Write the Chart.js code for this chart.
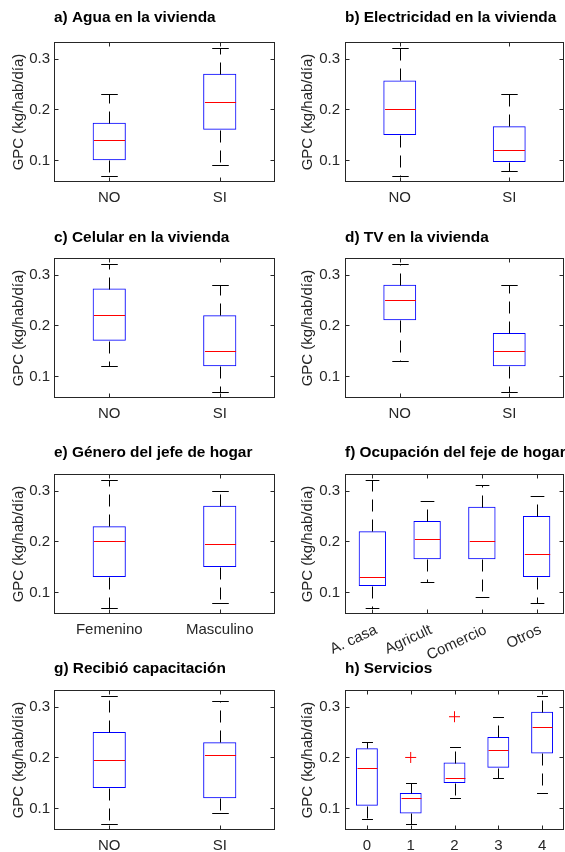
<!DOCTYPE html>
<html><head><meta charset="utf-8">
<script src="https://cdn.jsdelivr.net/npm/chart.js@4/dist/chart.umd.min.js"></script>
<style>
html,body{margin:0;padding:0;background:#fff;overflow:hidden;}
body{width:565px;height:852px;position:relative;}
canvas{position:absolute;}
</style></head><body>
<script>
// ---------- data ----------
const yTicks = [0.1, 0.2, 0.3];
const yMin = 0.0575, yMax = 0.3325;
const yLabel = 'GPC (kg/hab/día)';

const titleA = 'a) Agua en la vivienda';
const catsA = ['NO', 'SI'];
const lowA = [0.07, 0.09], q1A = [0.10, 0.16], medA = [0.14, 0.215], q3A = [0.174, 0.27], highA = [0.23, 0.32];

const titleB = 'b) Electricidad en la vivienda';
const catsB = ['NO', 'SI'];
const lowB = [0.07, 0.08], q1B = [0.15, 0.097], medB = [0.20, 0.12], q3B = [0.257, 0.167], highB = [0.32, 0.23];

const titleC = 'c) Celular en la vivienda';
const catsC = ['NO', 'SI'];
const lowC = [0.12, 0.07], q1C = [0.17, 0.12], medC = [0.22, 0.15], q3C = [0.2725, 0.22], highC = [0.32, 0.28];

const titleD = 'd) TV en la vivienda';
const catsD = ['NO', 'SI'];
const lowD = [0.13, 0.07], q1D = [0.21, 0.12], medD = [0.25, 0.15], q3D = [0.28, 0.185], highD = [0.32, 0.28];

const titleE = 'e) Género del jefe de hogar';
const catsE = ['Femenino', 'Masculino'];
const lowE = [0.07, 0.08], q1E = [0.13, 0.15], medE = [0.20, 0.195], q3E = [0.23, 0.27], highE = [0.32, 0.30];

const titleF = 'f) Ocupación del feje de hogar';
const catsF = ['A. casa', 'Agricult', 'Comercio', 'Otros'];
const lowF = [0.07, 0.12, 0.09, 0.08], q1F = [0.1125, 0.165, 0.165, 0.13], medF = [0.13, 0.205, 0.20, 0.175], q3F = [0.22, 0.24, 0.268, 0.25], highF = [0.32, 0.28, 0.31, 0.29];

const titleG = 'g) Recibió capacitación';
const catsG = ['NO', 'SI'];
const lowG = [0.07, 0.09], q1G = [0.14, 0.12], medG = [0.195, 0.205], q3G = [0.25, 0.23], highG = [0.32, 0.31];

const titleH = 'h) Servicios';
const catsH = ['0', '1', '2', '3', '4'];
const lowH = [0.08, 0.07, 0.12, 0.16, 0.13], q1H = [0.105, 0.09, 0.15, 0.18, 0.208], medH = [0.18, 0.12, 0.16, 0.215, 0.26], q3H = [0.218, 0.13, 0.19, 0.24, 0.29], highH = [0.23, 0.15, 0.22, 0.28, 0.32];
const outH = [null, 0.20, 0.28, null, null];

// ---------- drawing ----------
const FONT = "'Liberation Sans', Arial, Helvetica, sans-serif";
const TXT = '#262626';

const boxDecor = {
  id: 'boxDecor',
  afterDatasetsDraw(chart) {
    const p = chart.options.plugins.boxDecor;
    const {ctx, chartArea: a, scales: {x, y}} = chart;
    const n = p.cats.length;
    const bw = (a.width / n) * p.width;
    const cw = bw / 2;
    const line = (x1, y1, x2, y2) => { ctx.beginPath(); ctx.moveTo(x1, y1); ctx.lineTo(x2, y2); ctx.stroke(); };
    const py = v => Math.round(y.getPixelForValue(v)) + 0.5;
    ctx.save();
    ctx.lineWidth = 1;
    for (let i = 0; i < n; i++) {
      const cx = Math.round(x.getPixelForValue(i)) + 0.5;
      const yLo = py(p.low[i]), yQ1 = py(p.q1[i]), yMd = py(p.med[i]), yQ3 = py(p.q3[i]), yHi = py(p.high[i]);
      ctx.strokeStyle = '#000';
      ctx.setLineDash([12, 8]);
      line(cx, yQ3, cx, yHi);
      line(cx, yQ1, cx, yLo);
      ctx.setLineDash([]);
      line(cx - cw / 2, yHi, cx + cw / 2, yHi);
      line(cx - cw / 2, yLo, cx + cw / 2, yLo);
      ctx.strokeStyle = '#ff0000';
      line(cx - bw / 2 + 1, yMd, cx + bw / 2 - 1, yMd);
    }
    // frame
    ctx.strokeStyle = TXT;
    const L = Math.round(a.left) + 0.5, R = Math.round(a.right) - 0.5, T = Math.round(a.top) + 0.5, B = Math.round(a.bottom) - 0.5;
    ctx.strokeRect(L, T, R - L, B - T);
    // inward ticks
    const tl = 4;
    yTicks.forEach(v => { const yy = py(v); line(L, yy, L + tl, yy); line(R, yy, R - tl, yy); });
    for (let i = 0; i < n; i++) {
      const cx = Math.round(x.getPixelForValue(i)) + 0.5;
      line(cx, B, cx, B - tl); line(cx, T, cx, T + tl);
    }
    // title
    ctx.fillStyle = '#000';
    ctx.font = 'bold 15.4px ' + FONT;
    ctx.textAlign = 'left';
    ctx.textBaseline = 'alphabetic';
    ctx.fillText(p.title, a.left, a.top + p.titleDy);
    ctx.restore();
  }
};

function makePanel(cfg) {
  const cv = document.createElement('canvas');
  cv.width = cfg.cw; cv.height = cfg.ch;
  cv.style.left = cfg.cx + 'px'; cv.style.top = cfg.cy + 'px';
  cv.style.width = cfg.cw + 'px'; cv.style.height = cfg.ch + 'px';
  document.body.appendChild(cv);
  const datasets = [{
    type: 'bar',
    data: cfg.q1.map((v, i) => [v, cfg.q3[i]]),
    backgroundColor: 'rgba(255,255,255,0)',
    borderColor: '#0000ff',
    borderWidth: 1,
    borderSkipped: false,
    barPercentage: cfg.width,
    categoryPercentage: 1,
    order: 2
  }];
  if (cfg.out) {
    datasets.push({
      type: 'line', data: cfg.out, showLine: false,
      pointStyle: 'cross', pointRadius: 5.5, borderColor: '#ff0000', backgroundColor: '#ff0000',
      borderWidth: 1, order: 1
    });
  }
  new Chart(cv, {
    type: 'bar',
    data: {labels: cfg.cats, datasets},
    options: {
      responsive: false, animation: false, devicePixelRatio: 1,
      events: [],
      layout: {padding: {left: 0, top: cfg.padTop, right: cfg.padRight, bottom: 0}},
      plugins: {
        legend: {display: false}, tooltip: {enabled: false}, title: {display: false},
        boxDecor: {cats: cfg.cats, low: cfg.low, q1: cfg.q1, med: cfg.med, q3: cfg.q3, high: cfg.high, width: cfg.width, title: cfg.title, titleDy: cfg.titleDy}
      },
      scales: {
        x: {
          type: 'category', offset: true,
          grid: {display: false, drawTicks: false}, border: {display: false},
          ticks: {color: TXT, font: {family: FONT, size: 15}, padding: cfg.rot ? 7 : 7, labelOffset: cfg.rot ? 4 : 0, autoSkip: false, minRotation: cfg.rot, maxRotation: cfg.rot},
          afterFit(s) { s.height = cfg.xh; }
        },
        y: {
          min: yMin, max: yMax,
          grid: {display: false, drawTicks: false}, border: {display: false},
          afterBuildTicks(s) { s.ticks = yTicks.map(v => ({value: v})); },
          ticks: {color: TXT, font: {family: FONT, size: 15}, padding: cfg.ytickPad, callback: v => Number(v).toFixed(1)},
          title: {display: true, text: yLabel, color: TXT, font: {family: FONT, size: 15}, padding: {top: cfg.ytPad, bottom: 0}},
          afterFit(s) { s.width = cfg.yw; }
        }
      }
    },
    plugins: [boxDecor]
  });
}

const plotTops = [42, 258, 474, 690];
const titleDys = [-20, -16, -17, -17];
const PH = 140;
const cols = [
  {cx: 0, cw: 282, yw: 54, pw: 221, ytPad: 10, ytickPad: 4},
  {cx: 291, cw: 290, yw: 54, pw: 219, ytPad: 8, ytickPad: 5}
];
const panels = [
  {title: titleA, cats: catsA, low: lowA, q1: q1A, med: medA, q3: q3A, high: highA},
  {title: titleB, cats: catsB, low: lowB, q1: q1B, med: medB, q3: q3B, high: highB},
  {title: titleC, cats: catsC, low: lowC, q1: q1C, med: medC, q3: q3C, high: highC},
  {title: titleD, cats: catsD, low: lowD, q1: q1D, med: medD, q3: q3D, high: highD},
  {title: titleE, cats: catsE, low: lowE, q1: q1E, med: medE, q3: q3E, high: highE},
  {title: titleF, cats: catsF, low: lowF, q1: q1F, med: medF, q3: q3F, high: highF, rot: 25, xh: 70},
  {title: titleG, cats: catsG, low: lowG, q1: q1G, med: medG, q3: q3G, high: highG},
  {title: titleH, cats: catsH, low: lowH, q1: q1H, med: medH, q3: q3H, high: highH, out: outH}
];
panels.forEach((p, k) => {
  const r = Math.floor(k / 2), c = k % 2;
  const col = cols[c];
  const xh = p.xh || 40;
  makePanel(Object.assign({}, p, {
    cx: col.cx, cw: col.cw, yw: col.yw, ytPad: col.ytPad, ytickPad: col.ytickPad,
    padRight: col.cw - col.yw - col.pw,
    cy: plotTops[r] - 42, padTop: 42, ch: 42 + PH + xh, xh,
    titleDy: titleDys[r],
    rot: p.rot || 0,
    width: p.cats.length <= 2 ? 0.3 : 0.5
  }));
});
</script>
</body></html>
